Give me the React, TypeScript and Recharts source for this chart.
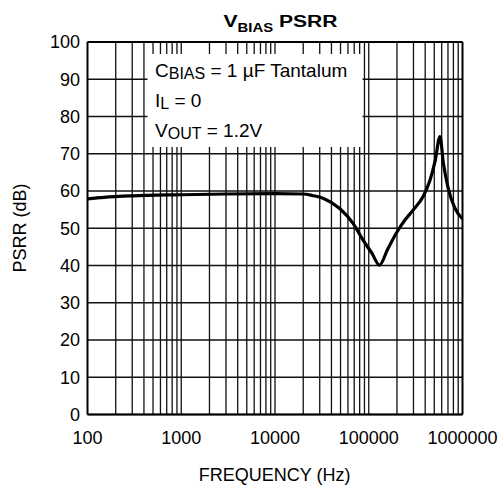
import React from 'react';
import { LineChart, Line, XAxis, YAxis, CartesianGrid, ReferenceLine } from 'recharts';

const frequencies = [100, 150, 300, 1000, 3000, 10000, 20000, 25000, 33000, 49000, 68000, 87000, 108000, 130000, 160000, 200000, 240000, 300000, 380000, 450000, 510000, 575000, 625000, 700000, 820000, 1000000];
const psrr = [57.9, 58.3, 58.7, 59.0, 59.2, 59.3, 59.2, 58.8, 58.0, 55.3, 51.3, 46.8, 43.3, 40.1, 44.5, 49.0, 52.0, 55.0, 58.5, 62.9, 68.0, 74.6, 67.5, 61.0, 55.7, 52.5];

const xTicks = [100, 1000, 10000, 100000, 1000000];
const yTicks = [0, 10, 20, 30, 40, 50, 60, 70, 80, 90, 100];
const decades = [100, 1000, 10000, 100000];
const minorMultipliers = [2, 3, 4, 5, 6, 7, 8, 9];

const data = frequencies.map((f, i) => ({ f, v: psrr[i] }));
const gridFreqs: number[] = [];
decades.forEach((d) => {
  if (d !== 100) gridFreqs.push(d);
  minorMultipliers.forEach((m) => gridFreqs.push(d * m));
});

const FONT = '"Liberation Sans", Arial, Helvetica, sans-serif';

export default function App() {
  return (
    <div style={{ position: 'absolute', left: 0, top: 0, width: 500, height: 487, background: '#fff', fontFamily: FONT }}>
      <LineChart
        width={500}
        height={487}
        data={data}
        margin={{ top: 42, right: 37.5, bottom: 32.5, left: 0 }}
      >
        <CartesianGrid horizontal={true} vertical={false} stroke="#111" strokeWidth={1.3} strokeOpacity={1} />
        {gridFreqs.map((g) => (
          <ReferenceLine key={g} x={g} stroke="#111" strokeWidth={1.3} />
        ))}
        <ReferenceLine x={1000000} stroke="#000" strokeWidth={2} />
        <ReferenceLine y={100} stroke="#000" strokeWidth={2} />
        <XAxis
          dataKey="f"
          type="number"
          scale="log"
          domain={[100, 1000000]}
          ticks={xTicks}
          allowDataOverflow
          height={40}
          tickLine={false}
          tickSize={0}
          tickMargin={17}
          axisLine={{ stroke: '#000', strokeWidth: 2 }}
          tick={{ fill: '#000', fontSize: 18, fontFamily: FONT }}
          tickFormatter={(v: number) => String(v)}
          interval={0}
        />
        <YAxis
          type="number"
          domain={[0, 100]}
          ticks={yTicks}
          width={87.5}
          tickLine={false}
          tickSize={0}
          tickMargin={7.5}
          axisLine={{ stroke: '#000', strokeWidth: 2 }}
          tick={{ fill: '#000', fontSize: 18, fontFamily: FONT }}
          interval={0}
        />
        <Line
          dataKey="v"
          type="monotone"
          stroke="#000"
          strokeWidth={3.2}
          dot={false}
          isAnimationActive={false}
        />
      </LineChart>
      <svg
        width={500}
        height={487}
        style={{ position: 'absolute', left: 0, top: 0, pointerEvents: 'none' }}
        fontFamily={FONT}
      >
        <rect x={147.5} y={54} width={215} height={93} fill="#fff" />
        <text x={155} y={76.7} fontSize={19} fill="#000">
          C<tspan fontSize={16} dy={2.5}>BIAS</tspan><tspan dy={-2.5}> = 1 µF Tantalum</tspan>
        </text>
        <text x={155} y={106.7} fontSize={19} fill="#000">
          I<tspan fontSize={16} dy={2.5}>L</tspan><tspan dy={-2.5}> = 0</tspan>
        </text>
        <text x={155} y={136.7} fontSize={19} fill="#000">
          V<tspan fontSize={16} dy={2.5}>OUT</tspan><tspan dy={-2.5}> = 1.2V</tspan>
        </text>
        <g transform="translate(280.5,26.7) scale(1.24,1)">
          <text x={0} y={0} fontSize={17} fontWeight="bold" textAnchor="middle" fill="#000">
            V<tspan fontSize={12} dy={5}>BIAS</tspan><tspan dy={-5}> PSRR</tspan>
          </text>
        </g>
        <text x={274.7} y={481} fontSize={18} textAnchor="middle" fill="#000">
          FREQUENCY (Hz)
        </text>
        <text transform="translate(25.5,228) rotate(-90)" x={0} y={0} fontSize={18} textAnchor="middle" fill="#000">
          PSRR (dB)
        </text>
      </svg>
    </div>
  );
}
